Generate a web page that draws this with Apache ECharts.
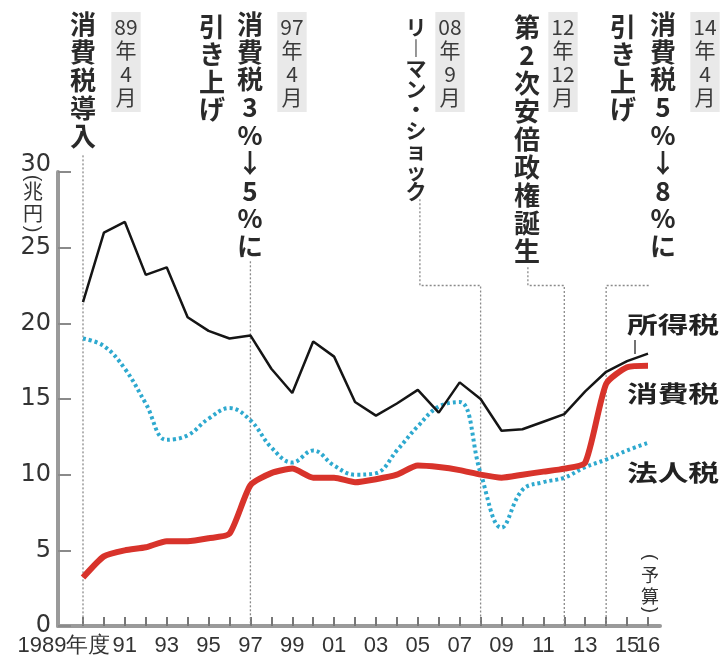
<!DOCTYPE html>
<html><head><meta charset="utf-8">
<script src="https://cdn.jsdelivr.net/npm/echarts@6/dist/echarts.min.js"></script>
<style>html,body{margin:0;padding:0;background:#fff}#c{width:723px;height:660px}</style>
</head><body><div id="c"></div>
<script>
// ---- data (兆円, 年度) ----
const years = [1989,1990,1991,1992,1993,1994,1995,1996,1997,1998,1999,2000,2001,2002,2003,2004,2005,2006,2007,2008,2009,2010,2011,2012,2013,2014,2015,2016];
const incomeTax = [21.4,26.0,26.7,23.2,23.7,20.4,19.5,19.0,19.2,17.0,15.4,18.8,17.8,14.8,13.9,14.7,15.6,14.1,16.1,15.0,12.9,13.0,13.5,14.0,15.5,16.8,17.5,18.0];
const consumptionTax = [3.2,4.6,5.0,5.2,5.6,5.6,5.8,6.1,9.3,10.1,10.4,9.8,9.8,9.5,9.7,10.0,10.6,10.5,10.3,10.0,9.8,10.0,10.2,10.4,10.8,16.0,17.1,17.2];
const corporateTax = [19.0,18.5,17.0,14.7,12.3,12.6,13.7,14.4,13.6,11.8,10.8,11.6,10.6,10.0,10.1,11.6,13.2,14.5,14.8,10.1,6.5,9.0,9.5,9.8,10.5,11.0,11.6,12.1];
const seriesNames = ['所得税','消費税','法人税'];
const xTickYears = [1989,1991,1993,1995,1997,1999,2001,2003,2005,2007,2009,2011,2013,2015,2016];
const xTickLabels = ['1989年度','91','93','95','97','99','01','03','05','07','09','11','13','15','16'];
const yMin = 0, yMax = 30, yStep = 5;
const yUnit = ['(','兆','円',')'];
const budgetNote = ['(','予','算',')'];
const events = [
  {date:['89','年','4','月'], text:['消','費','税','導','入']},
  {date:['97','年','4','月'], text:['消','費','税','3','%','↓','5','%','に'], sub:['引','き','上','げ']},
  {date:['08','年','9','月'], text:['リ','︱','マ','ン','・','シ','ョ','ッ','ク']},
  {date:['12','年','12','月'], text:['第','2','次','安','倍','政','権','誕','生']},
  {date:['14','年','4','月'], text:['消','費','税','5','%','↓','8','%','に'], sub:['引','き','上','げ']}
];
// annotation guide polylines (data coordinates)
const guides = [
  [[1989,31.1],[1989,0]],
  [[1997,24.1],[1997,0]],
  [[2005.1,28.2],[2005.1,22.5],[2008,22.5],[2008,0]],
  [[2010.26,23.7],[2010.26,22.5],[2012,22.5],[2012,0]],
  [[2017.05,24.0],[2017.05,22.5],[2014,22.5],[2014,0]]
];

// ---- layout / style ----
const JP = '"Noto Sans CJK JP", sans-serif';
const NUM = '"Liberation Sans", sans-serif';
const chart = echarts.init(document.getElementById('c'), null, {renderer:'canvas'});

function col(chars, cx, top, fs, lh, extra) {
  return {type:'text', x:cx, y:top, z:50, style:Object.assign({
    text: chars.join('\n'), fontSize: fs, lineHeight: lh, fontFamily: JP, fontWeight: 'bold',
    fill:'#2a2a2a', align:'center', verticalAlign:'top'}, extra||{})};
}
function dateCol(chars, cx) {
  return col(chars, cx, 12, 21, 23.5, {fill:'#3a3a3a', fontWeight:'normal', backgroundColor:'#e9e9e9', padding:[3,3,3,3]});
}
function glyph(ch, cx, cy, fs, rot) {
  return {type:'text', x:cx, y:cy, rotation:rot||0, z:50, style:{text:ch, fontSize:fs, fontFamily: rot ? NUM : JP,
    fill:'#333', align:'center', verticalAlign:'middle'}};
}
function parenCol(chars, cx, ys, fsK, fsP) {
  return [
    glyph(chars[0], cx, ys[0], fsP, -Math.PI/2),
    glyph(chars[1], cx, ys[1], fsK),
    glyph(chars[2], cx, ys[2], fsK),
    glyph(chars[3], cx, ys[3], fsP, -Math.PI/2)
  ];
}
const graphics = [
  col(events[0].text, 83, 10, 26, 28),
  dateCol(events[0].date, 126),
  col(events[1].sub, 212, 13, 26, 27.5),
  col(events[1].text, 250, 10, 26, 27.8),
  dateCol(events[1].date, 292),
  col(events[2].text, 416, 17, 21, 20.5),
  dateCol(events[2].date, 450),
  col(events[3].text, 527, 13, 26, 28),
  dateCol(events[3].date, 563),
  col(events[4].sub, 623, 13, 26, 27.5),
  col(events[4].text, 663, 10, 26, 27.8),
  dateCol(events[4].date, 705)
].concat(
  parenCol(yUnit, 33, [178, 191, 213, 229], 20, 20),
  parenCol(budgetNote, 650, [557, 575, 596, 610], 18, 18),
  [
  {type:'text', x:627, y:324, scaleX:1.18, scaleY:0.88, z:50, style:{text:seriesNames[0], fontSize:26, fontWeight:'bold', fontFamily:JP, fill:'#222', align:'left', verticalAlign:'middle'}},
  {type:'text', x:627, y:393, scaleX:1.18, scaleY:0.88, z:50, style:{text:seriesNames[1], fontSize:26, fontWeight:'bold', fontFamily:JP, fill:'#222', align:'left', verticalAlign:'middle'}},
  {type:'text', x:627, y:472, scaleX:1.18, scaleY:0.88, z:50, style:{text:seriesNames[2], fontSize:26, fontWeight:'bold', fontFamily:JP, fill:'#222', align:'left', verticalAlign:'middle'}},
  {type:'line', z:50, shape:{x1:635, y1:340, x2:635, y2:354}, style:{stroke:'#444', lineWidth:1.5}}
]);

const guideSeries = guides.map(g => ({
  type:'line', xAxisIndex:2, yAxisIndex:1, data:g, symbol:'none', clip:false, silent:true, z:1,
  lineStyle:{color:'#8a8a8a', width:1.3, type:[2,2]}
}));

const option = {
  animation:false,
  backgroundColor:'#fff',
  grid:[
    {left:58, right:63, top:172, bottom:34},
    {left:83, right:75, top:172, bottom:34}
  ],
  xAxis:[
    {gridIndex:0, type:'value', min:0, max:1, axisLine:{show:true, lineStyle:{color:'#9a9a9a', width:4}},
     axisTick:{show:false}, axisLabel:{show:false}, splitLine:{show:false}},
    {gridIndex:1, type:'category', boundaryGap:false, data:years.map(String),
     axisLine:{show:false}, splitLine:{show:false},
     axisTick:{show:true, inside:true, length:9, interval:0, lineStyle:{color:'#777', width:2}},
     axisLabel:{interval:0, margin:9, color:'#333', fontSize:22, fontFamily:NUM,
       formatter:v => { const i = xTickYears.indexOf(Number(v)); if (i < 0) return ''; return i===0 ? '{first|'+xTickLabels[i]+'}' : xTickLabels[i]; },
       rich:{first:{padding:[0,38,0,0], fontSize:22, fontFamily:NUM, color:'#333'}}}},
    {gridIndex:1, type:'value', min:years[0], max:years[years.length-1], show:false}
  ],
  yAxis:[
    {gridIndex:0, type:'value', min:yMin, max:yMax, interval:yStep,
     axisLine:{show:true, lineStyle:{color:'#9a9a9a', width:4}},
     axisTick:{show:true, inside:true, length:13, lineStyle:{color:'#8a8a8a', width:2}},
     splitLine:{show:false},
     axisLabel:{margin:7, color:'#333', fontSize:24, fontFamily:'"DejaVu Sans", sans-serif',
       formatter:v => v===yMax ? '{top|'+v+'}' : String(v),
       rich:{top:{padding:[0,0,14,0], fontSize:24, fontFamily:'"DejaVu Sans", sans-serif', color:'#333'}}}},
    {gridIndex:1, type:'value', min:yMin, max:yMax, show:false}
  ],
  series: guideSeries.concat([
    {name:seriesNames[2], type:'line', xAxisIndex:1, yAxisIndex:1, symbol:'none', smooth:0.4, z:3,
     data: corporateTax,
     lineStyle:{color:'#2ea9cf', width:4, type:[3,3]}},
    {name:seriesNames[1], type:'line', xAxisIndex:1, yAxisIndex:1, symbol:'none', smooth:0.2, z:4,
     data: consumptionTax,
     lineStyle:{color:'#d8332b', width:6}},
    {name:seriesNames[0], type:'line', xAxisIndex:1, yAxisIndex:1, symbol:'none', z:5,
     data: incomeTax,
     lineStyle:{color:'#151515', width:2.5}}
  ]),
  graphic: graphics
};
chart.setOption(option);
</script>
</body></html>
